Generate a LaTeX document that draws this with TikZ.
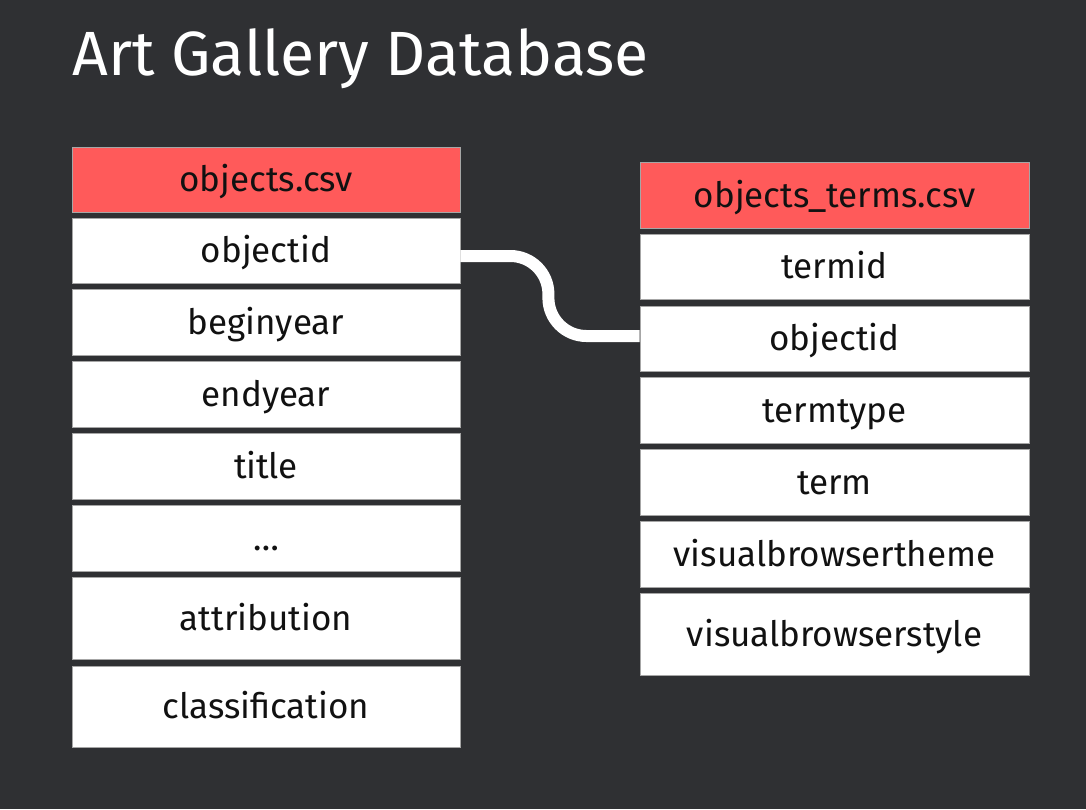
\documentclass[tikz,border=0pt]{standalone}
\usepackage{fontspec}
\setmainfont{Fira Sans}
\definecolor{bg}{HTML}{2F3033}
\definecolor{hdr}{HTML}{FF5A5A}
\definecolor{ink}{HTML}{111111}
\begin{document}
\begin{tikzpicture}[x=1pt,y=-1pt,
  cell/.style={draw=gray!70, line width=0.8pt, fill=white, text=ink, minimum width=388pt,
    inner sep=0pt, font=\fontsize{35}{40}\selectfont, text height=36pt, text depth=12pt, anchor=center},
  hcell/.style={cell, fill=hdr},
  link/.style={draw=white, line width=12pt, rounded corners=38pt}]
\fill[bg] (0,0) rectangle (1086,809);
\useasboundingbox (0,0) rectangle (1086,809);
\node[anchor=base west, text=white, font=\fontsize{62.5}{70}\selectfont, inner sep=0pt] (title) at (72,75) {Art Gallery Database};
% left table
\node[hcell, minimum height=65pt] (lhead) at (266,179.5) {objects.csv};
\node[cell, minimum height=65pt] (lobj) at (266,250.5) {objectid};
\node[cell, minimum height=66pt] (lbegin) at (266,322) {beginyear};
\node[cell, minimum height=66pt] (lend) at (266,394) {endyear};
\node[cell, minimum height=66pt] (ltitle) at (266,466) {title};
\node[cell, minimum height=66pt] (ldots) at (266,538) {\dots};
\node[cell, minimum height=82pt] (lattr) at (266,618) {attribution};
\node[cell, minimum height=81pt] (lclass) at (266,706.5) {classification};
% right table
\node[hcell, minimum height=66pt, minimum width=389pt] (rhead) at (834.5,195) {objects\_terms.csv};
\node[cell, minimum height=65pt, minimum width=389pt] (rterm) at (834.5,266.5) {termid};
\node[cell, minimum height=65pt, minimum width=389pt] (robj) at (834.5,338.5) {objectid};
\node[cell, minimum height=66pt, minimum width=389pt] (rtype) at (834.5,410) {termtype};
\node[cell, minimum height=66pt, minimum width=389pt] (rterm2) at (834.5,482) {term};
\node[cell, minimum height=66pt, minimum width=389pt] (rtheme) at (834.5,554) {visualbrowsertheme};
\node[cell, minimum height=82pt, minimum width=389pt] (rstyle) at (834.5,634) {visualbrowserstyle};
% connector
\draw[link] ([yshift=-5.5pt]lobj.east) -- ++(88,0) |- ([yshift=2.5pt]robj.west);
\end{tikzpicture}
\end{document}
